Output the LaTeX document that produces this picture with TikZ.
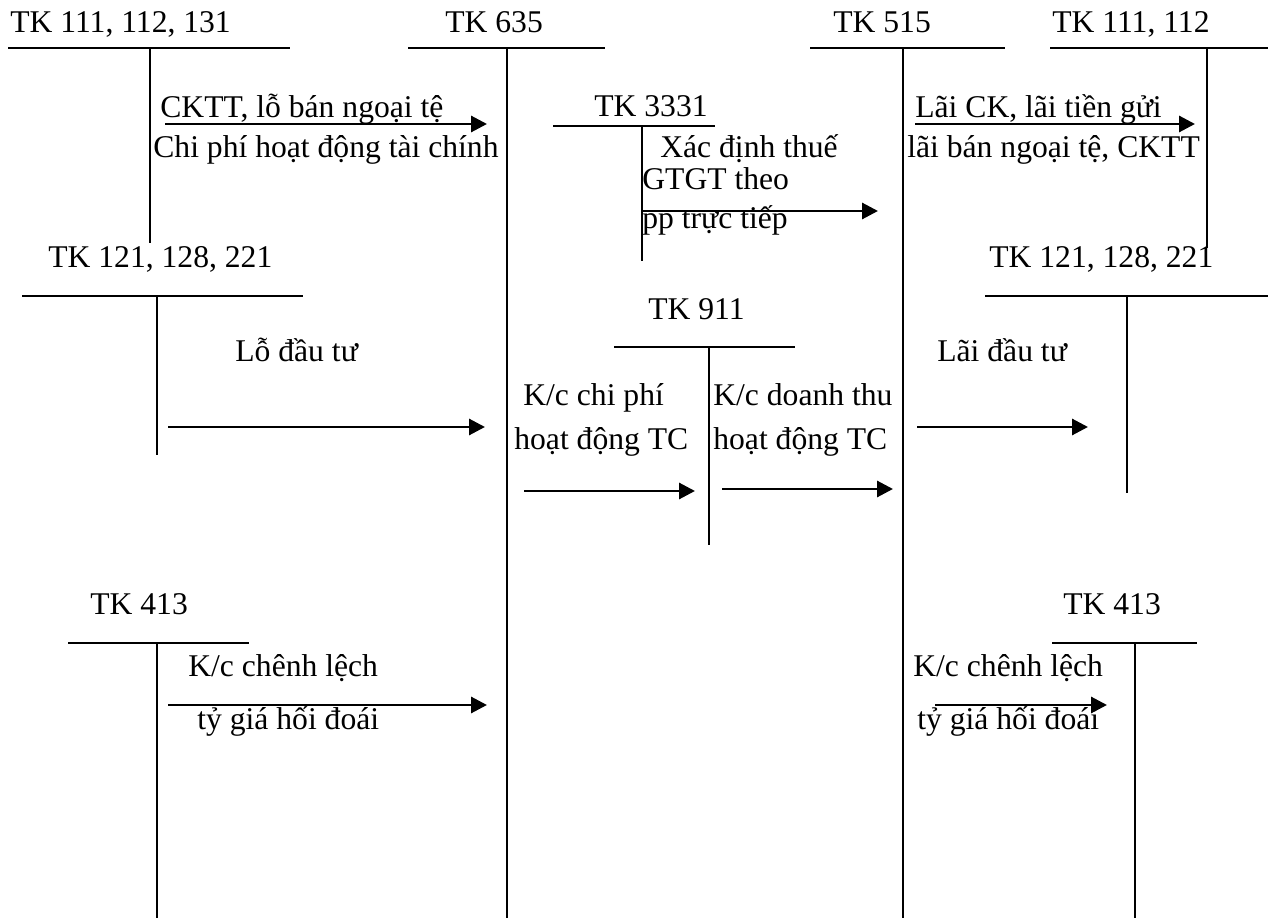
\documentclass[tikz,border=0pt]{standalone}
\usepackage{fontspec}
\setmainfont{Liberation Serif}
\usetikzlibrary{arrows.meta, positioning}

\begin{document}
\begin{tikzpicture}[
  x=0.02cm, y=-0.02cm,
  lbl/.style={anchor=base west, inner sep=0pt, font=\fontsize{18}{21}\selectfont},
  tline/.style={line width=1.1pt},
  arr/.style={-{Triangle[length=9pt, width=9pt]}, line width=1.7pt}
]
  \useasboundingbox (0,0) rectangle (1272,918);

  % account titles
  \node[lbl] (tk111a) at (10,33) {TK 111, 112, 131};
  \node[lbl] (tk635) at (445,33) {TK 635};
  \node[lbl] (tk515) at (833,33) {TK 515};
  \node[lbl] (tk111b) at (1052,33) {TK 111, 112};
  \node[lbl] (tk3331) at (594,117) {TK 3331};
  \node[lbl] (tk121a) at (48,268) {TK 121, 128, 221};
  \node[lbl] (tk121b) at (989,268) {TK 121, 128, 221};
  \node[lbl] (tk911) at (648,320) {TK 911};
  \node[lbl] (tk413a) at (90,615) {TK 413};
  \node[lbl] (tk413b) at (1063,615) {TK 413};

  % T-accounts
  \draw[tline] (8,48) -- (290,48) (150,48) -- (150,243);
  \draw[tline] (408,48) -- (605,48) (507,48) -- (507,918);
  \draw[tline] (553,126) -- (715,126) (642,126) -- (642,261);
  \draw[tline] (810,48) -- (1005,48) (903,48) -- (903,918);
  \draw[tline] (1050,48) -- (1268,48) (1207,48) -- (1207,248);
  \draw[tline] (22,296) -- (303,296) (157,296) -- (157,455);
  \draw[tline] (985,296) -- (1268,296) (1127,296) -- (1127,493);
  \draw[tline] (614,347) -- (795,347) (709,347) -- (709,545);
  \draw[tline] (68,643) -- (249,643) (157,643) -- (157,918);
  \draw[tline] (1052,643) -- (1197,643) (1135,643) -- (1135,918);

  % entry texts
  \node[lbl] (cktt) at (160,118) {CKTT, lỗ bán ngoại tệ};
  \node[lbl] (cpht) at (153,158) {Chi phí hoạt động tài chính};
  \node[lbl] (xdt1) at (660,158) {Xác định thuế};
  \node[lbl] (xdt2) at (642,190) {GTGT theo};
  \node[lbl] (xdt3) at (642,229) {pp trực tiếp};
  \node[lbl] (laick) at (915,118) {Lãi CK, lãi tiền gửi};
  \node[lbl] (laibnt) at (907,158) {lãi bán ngoại tệ, CKTT};
  \node[lbl] (lodt) at (235,362) {Lỗ đầu tư};
  \node[lbl] (laidt) at (937,362) {Lãi đầu tư};
  \node[lbl] (kccp1) at (523,406) {K/c chi phí};
  \node[lbl] (kccp2) at (514,450) {hoạt động TC};
  \node[lbl] (kcdt1) at (713,406) {K/c doanh thu};
  \node[lbl] (kcdt2) at (713,450) {hoạt động TC};
  \node[lbl] (kccla1) at (188,677) {K/c chênh lệch};
  \node[lbl] (kccla2) at (197,730) {tỷ giá hối đoái};
  \node[lbl] (kcclb1) at (913,677) {K/c chênh lệch};
  \node[lbl] (kcclb2) at (917,730) {tỷ giá hối đoái};

  % arrow ends
  \coordinate (cktt-s) at (165,124);   \coordinate (cktt-e) at (487,124);
  \coordinate (thue-s) at (642,211);   \coordinate (thue-e) at (878,211);
  \coordinate (laick-s) at (915,124);  \coordinate (laick-e) at (1195,124);
  \coordinate (lodt-s) at (168,427);   \coordinate (lodt-e) at (485,427);
  \coordinate (laidt-s) at (917,427);  \coordinate (laidt-e) at (1088,427);
  \coordinate (kccp-s) at (524,491);   \coordinate (kccp-e) at (695,491);
  \coordinate (kcdt-s) at (722,489);   \coordinate (kcdt-e) at (893,489);
  \coordinate (kccla-s) at (168,705);  \coordinate (kccla-e) at (487,705);
  \coordinate (kcclb-s) at (935,705);  \coordinate (kcclb-e) at (1107,705);

  \draw[arr] (cktt-s) -- (cktt-e);
  \draw[arr] (thue-s) -- (thue-e);
  \draw[arr] (laick-s) -- (laick-e);
  \draw[arr] (lodt-s) -- (lodt-e);
  \draw[arr] (laidt-s) -- (laidt-e);
  \draw[arr] (kccp-s) -- (kccp-e);
  \draw[arr] (kcdt-s) -- (kcdt-e);
  \draw[arr] (kccla-s) -- (kccla-e);
  \draw[arr] (kcclb-s) -- (kcclb-e);
\end{tikzpicture}
\end{document}
